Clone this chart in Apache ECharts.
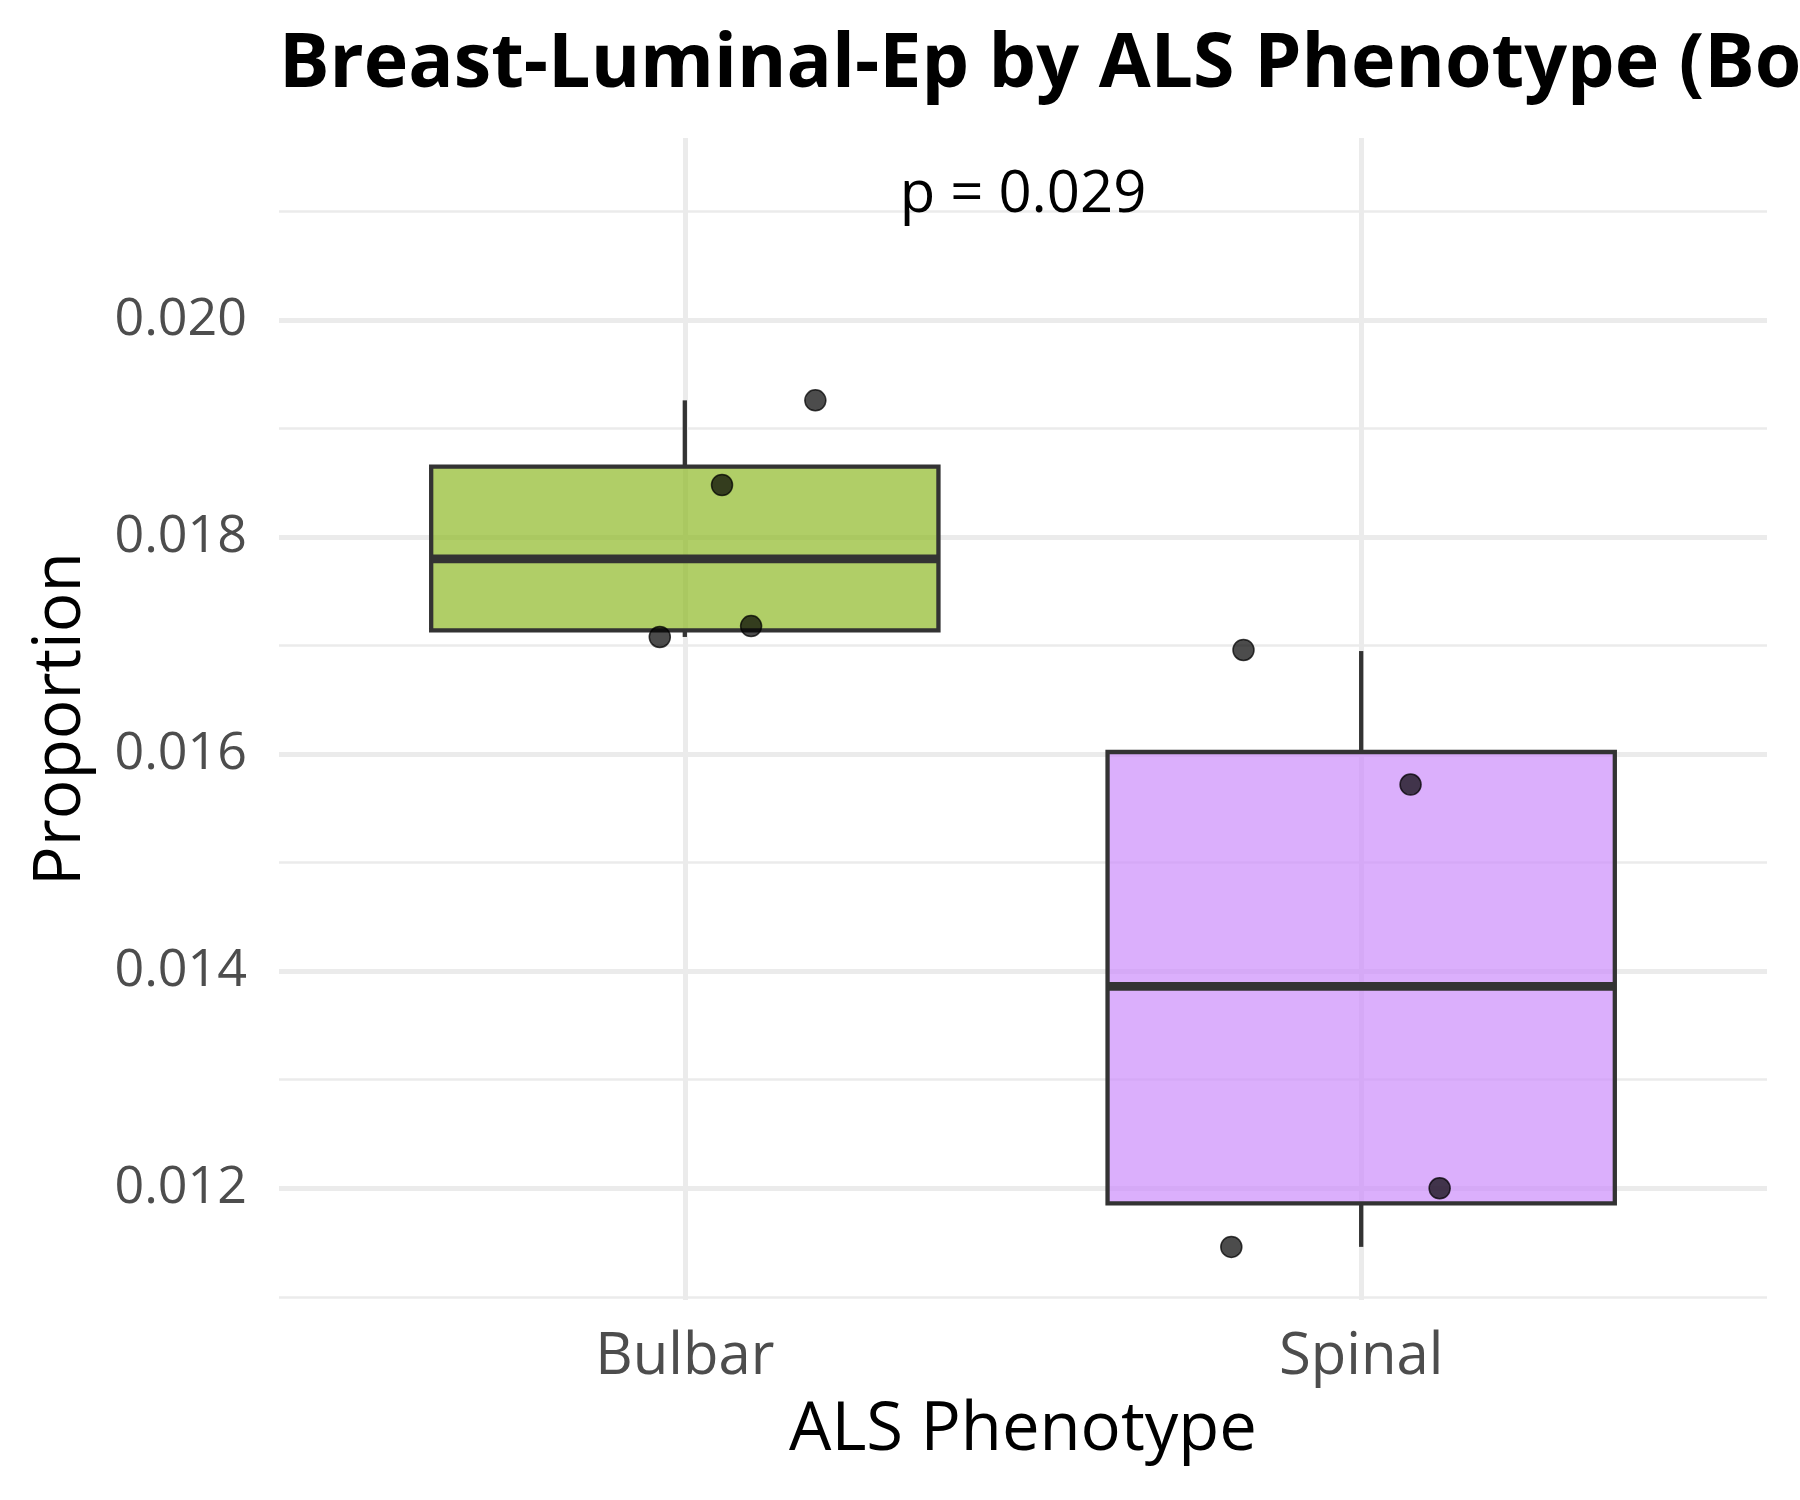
<!DOCTYPE html>
<html>
<head>
<meta charset="utf-8">
<script src="https://cdn.jsdelivr.net/npm/echarts@6/dist/echarts.min.js"></script>
<style>
  html, body { margin: 0; padding: 0; background: #ffffff; }
  #chart { width: 1800px; height: 1500px; }
</style>
</head>
<body>
<div id="chart"></div>
<script>
// ---- data ----
const categories = ['Bulbar', 'Spinal'];
// box statistics per category: [min, Q1, median, Q3, max]
const boxMin    = [0.01708, 0.01146];
const boxQ1     = [0.01714, 0.01186];
const boxMedian = [0.01780, 0.01386];
const boxQ3     = [0.01865, 0.01602];
const boxMax    = [0.01926, 0.01695];
// individual (jittered) observations
const bulbarX = [0.963, 1.098, 1.055, 1.193];
const bulbarY = [0.01708, 0.01718, 0.01848, 0.01926];
const spinalX = [1.826, 2.073, 2.116, 1.808];
const spinalY = [0.01696, 0.01572, 0.01200, 0.01146];
// tick labels
const yMajorTicks = [0.012, 0.014, 0.016, 0.018, 0.020];
const yMinorTicks = [0.011, 0.013, 0.015, 0.017, 0.019, 0.021];
const xTicks = [1, 2];
// annotation
const pText = 'p = 0.029';
const pX = 1.5;
const pY = 0.02115;

const titleText = 'Breast-Luminal-Ep by ALS Phenotype (Boxplot)';
const xTitle = 'ALS Phenotype';
const yTitle = 'Proportion';

// ---- styling ----
const Y_MIN = 0.0109705, Y_MAX = 0.0216774;
const X_MIN = 0.4, X_MAX = 2.6;
const BOX_W = 0.75;
const fillColors = ['rgba(142,185,39,0.7)', 'rgba(204,141,251,0.7)'];
const FONT = 'Open Sans';

const boxData = categories.map((c, i) => [i + 1, boxMin[i], boxQ1[i], boxMedian[i], boxQ3[i], boxMax[i]]);
const pointData = bulbarX.map((x, i) => [x, bulbarY[i]]).concat(spinalX.map((x, i) => [x, spinalY[i]]));

const chart = echarts.init(document.getElementById('chart'), null, { renderer: 'canvas' });

const option = {
  animation: false,
  backgroundColor: '#ffffff',
  title: {
    text: titleText,
    left: 279,
    top: 28,
    padding: 0,
    textStyle: { fontFamily: FONT, fontSize: 75.3, fontWeight: 'bold', color: '#000000' }
  },
  grid: { left: 279, right: 33, top: 138, bottom: 200, containLabel: false },
  xAxis: {
    type: 'value',
    min: X_MIN,
    max: X_MAX,
    name: xTitle,
    nameLocation: 'middle',
    nameGap: 97,
    nameTextStyle: { fontFamily: FONT, fontSize: 67, color: '#000000' },
    axisLine: { show: false },
    axisTick: { show: false, customValues: xTicks },
    axisLabel: {
      customValues: xTicks,
      formatter: v => categories[Math.round(v) - 1],
      fontFamily: FONT, fontSize: 58, color: '#4d4d4d', margin: 28
    },
    splitLine: { show: true, lineStyle: { color: '#ebebeb', width: 5 } }
  },
  yAxis: [
    {
      type: 'value',
      min: Y_MIN,
      max: Y_MAX,
      name: yTitle,
      nameLocation: 'middle',
      nameGap: 185,
      nameTextStyle: { fontFamily: FONT, fontSize: 66, color: '#000000' },
      axisLine: { show: false },
      axisTick: { show: false, customValues: yMajorTicks },
      axisLabel: {
        customValues: yMajorTicks,
        formatter: v => v.toFixed(3),
        fontFamily: FONT, fontSize: 52, color: '#4d4d4d', margin: 32
      },
      splitLine: { show: true, lineStyle: { color: '#ebebeb', width: 5 } }
    },
    {
      type: 'value',
      min: Y_MIN,
      max: Y_MAX,
      position: 'left',
      axisLine: { show: false },
      axisTick: { show: false, customValues: yMinorTicks },
      axisLabel: { show: false, customValues: yMinorTicks },
      splitLine: { show: true, lineStyle: { color: '#ebebeb', width: 2.7 } }
    }
  ],
  series: [
    {
      type: 'custom',
      name: 'box',
      yAxisIndex: 0,
      data: boxData,
      z: 2,
      renderItem: function (params, api) {
        const x = api.value(0);
        const pMin = api.coord([x, api.value(1)]);
        const pQ1 = api.coord([x, api.value(2)]);
        const pMed = api.coord([x, api.value(3)]);
        const pQ3 = api.coord([x, api.value(4)]);
        const pMax = api.coord([x, api.value(5)]);
        const half = api.size([BOX_W, 0])[0] / 2;
        const cx = pMed[0];
        const stroke = '#333333';
        return {
          type: 'group',
          children: [
            { type: 'line', shape: { x1: cx, y1: pMin[1], x2: cx, y2: pQ1[1] }, style: { stroke: stroke, lineWidth: 4.3 } },
            { type: 'line', shape: { x1: cx, y1: pQ3[1], x2: cx, y2: pMax[1] }, style: { stroke: stroke, lineWidth: 4.3 } },
            { type: 'rect', shape: { x: cx - half, y: pQ3[1], width: 2 * half, height: pQ1[1] - pQ3[1] },
              style: { fill: fillColors[params.dataIndex], stroke: stroke, lineWidth: 4.3 } },
            { type: 'line', shape: { x1: cx - half, y1: pMed[1], x2: cx + half, y2: pMed[1] },
              style: { stroke: stroke, lineWidth: 8.7 } }
          ]
        };
      }
    },
    {
      type: 'scatter',
      name: 'points',
      yAxisIndex: 0,
      data: pointData,
      symbol: 'circle',
      symbolSize: 21,
      z: 5,
      itemStyle: { color: 'rgba(0,0,0,0.7)', borderColor: 'rgba(0,0,0,0.75)', borderWidth: 1.5, opacity: 1 }
    },
    {
      type: 'custom',
      name: 'pvalue',
      yAxisIndex: 0,
      data: [[pX, pY]],
      z: 6,
      renderItem: function (params, api) {
        const p = api.coord([api.value(0), api.value(1)]);
        return {
          type: 'text',
          x: p[0],
          y: p[1],
          style: {
            text: pText,
            fill: '#000000',
            font: '58px "Open Sans"',
            align: 'center',
            verticalAlign: 'middle'
          }
        };
      }
    }
  ]
};

chart.setOption(option);
</script>
</body>
</html>
